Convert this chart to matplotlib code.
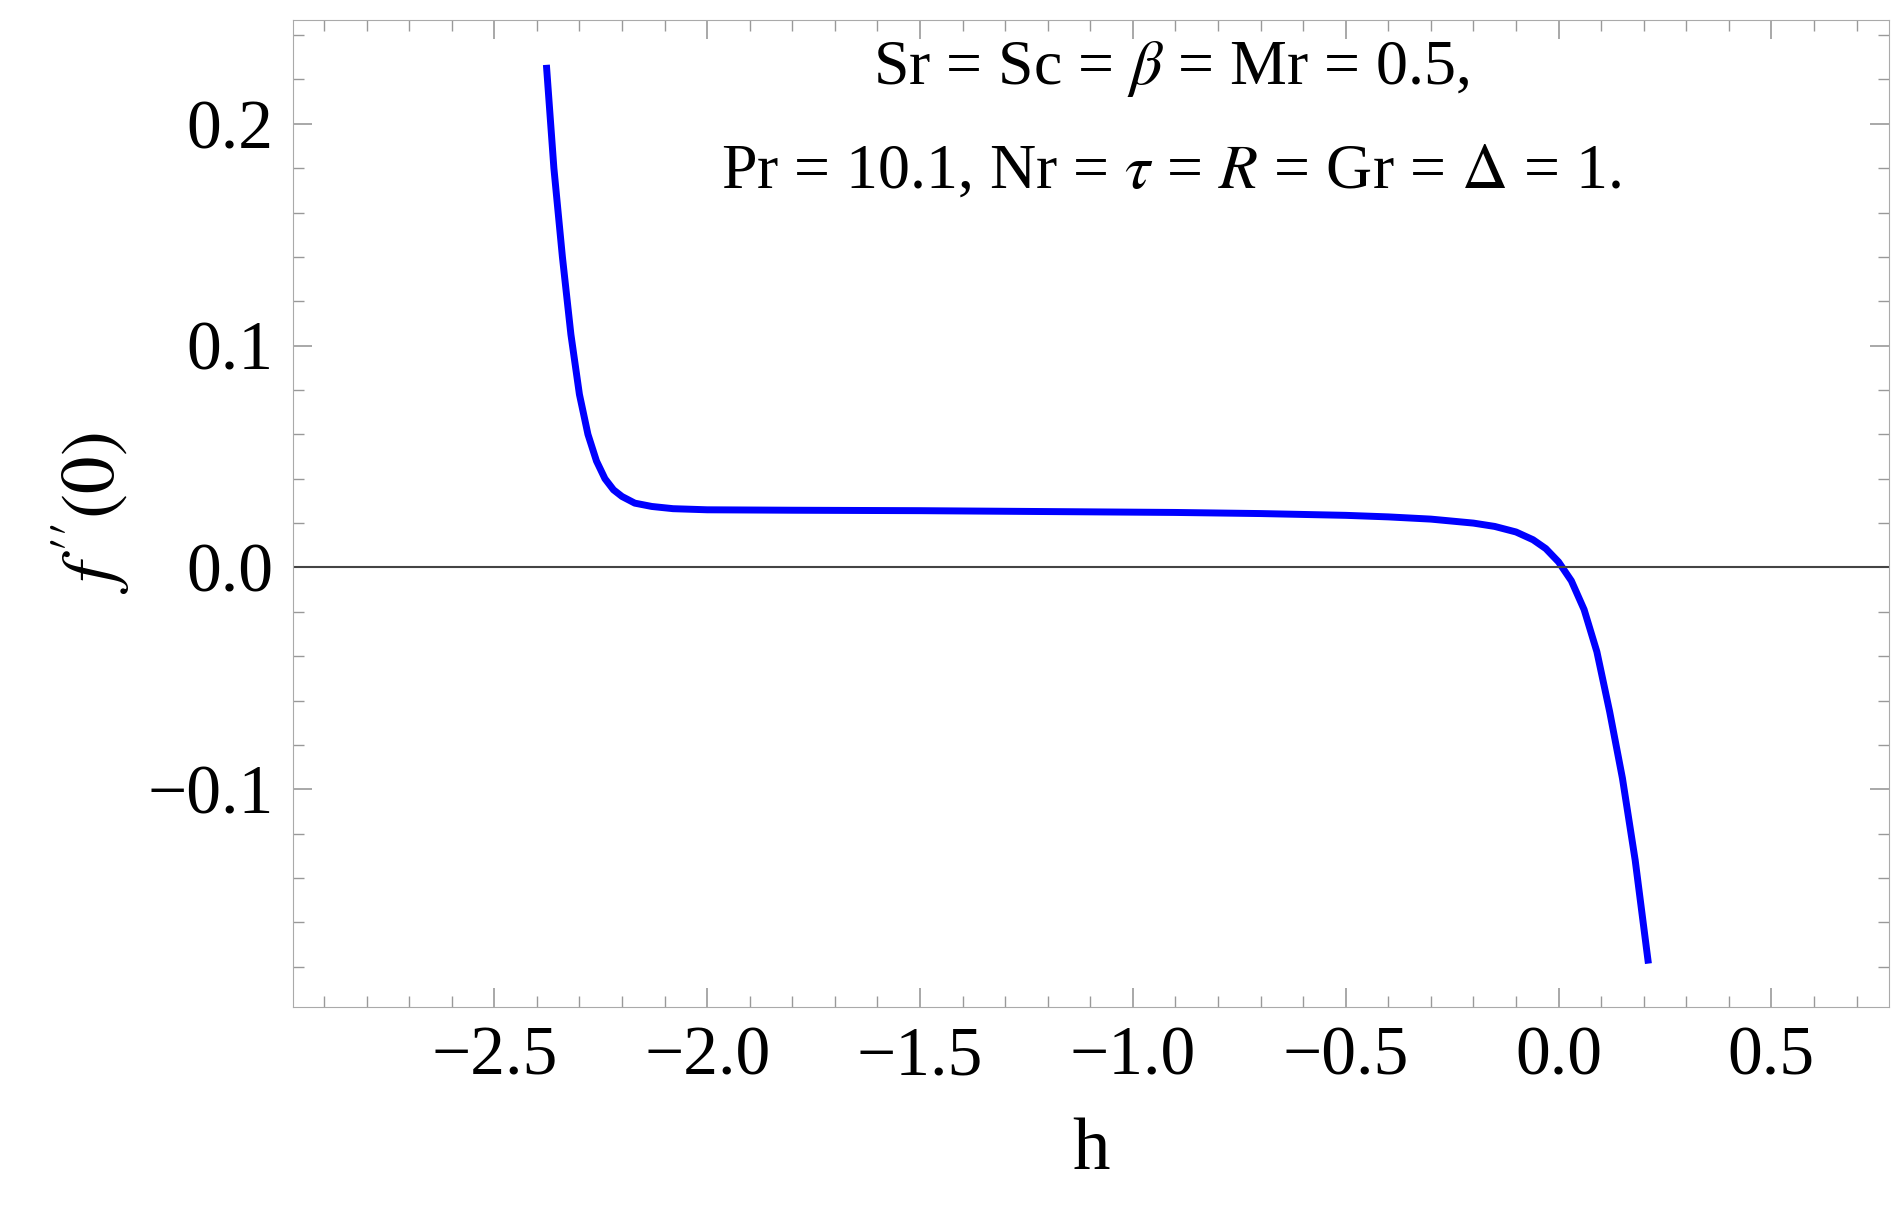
import matplotlib.pyplot as plt
import numpy as np
from matplotlib.ticker import MultipleLocator

plt.rcParams['font.family'] = ['Liberation Serif', 'DejaVu Serif']
plt.rcParams['mathtext.fontset'] = 'stix'

# values
h = [-2.377, -2.36, -2.34, -2.32, -2.30, -2.28, -2.26, -2.24, -2.22, -2.20, -2.17, -2.13,
     -2.08, -2.0, -1.8, -1.5, -1.2, -0.9, -0.7, -0.5, -0.4, -0.3, -0.2, -0.15, -0.1,
     -0.06, -0.03, 0.0, 0.03, 0.06, 0.09, 0.12, 0.15, 0.18, 0.21]
fpp = [0.225, 0.180, 0.140, 0.105, 0.078, 0.060, 0.048, 0.040, 0.035, 0.032, 0.029, 0.0275,
       0.0265, 0.026, 0.0258, 0.0256, 0.0252, 0.0248, 0.0243, 0.0235, 0.0228, 0.0218, 0.0200, 0.0185, 0.0160,
       0.0125, 0.0085, 0.0025, -0.0060, -0.0190, -0.0380, -0.0650, -0.0950, -0.1320, -0.1770]

fig = plt.figure(figsize=(19.04, 12.31), dpi=100)
ax = fig.add_axes([0.154, 0.329, 0.687, 0.658])
ax.set_position([240/1560, 1 - 826/1010, 1308/1560, 810/1010])
ax.plot(h, fpp, color='#0000ff', lw=5)
ax.axhline(0, color='#444444', lw=1.5)
ax.set_xlim(-2.973, 0.777)
ax.set_ylim(-0.198, 0.247)
ax.xaxis.set_major_locator(MultipleLocator(0.5))
ax.xaxis.set_minor_locator(MultipleLocator(0.1))
ax.yaxis.set_major_locator(MultipleLocator(0.1))
ax.yaxis.set_minor_locator(MultipleLocator(0.02))
ax.tick_params(which='both', direction='in', top=True, right=True, color='#999999',
               labelsize=50, pad=14)
ax.tick_params(which='major', length=14, width=1.2)
ax.tick_params(which='minor', length=8, width=1)
ax.xaxis.set_major_formatter(plt.FuncFormatter(lambda v, p: f'{v:.1f}'.replace('-', '\u2212')))
ax.yaxis.set_major_formatter(plt.FuncFormatter(lambda v, p: f'{v:.1f}'.replace('-', '\u2212')))
for s in ax.spines.values():
    s.set_color('#aaaaaa')
ax.set_xlabel('h', fontsize=54, labelpad=20)
ax.set_ylabel(r"$f\,''(0)$", fontsize=54, labelpad=10)
ax.text(0.55, 0.95, r'Sr = Sc = $\beta$ = Mr = 0.5,', transform=ax.transAxes,
        ha='center', va='center', fontsize=46)
ax.text(0.55, 0.845, r'Pr = 10.1, Nr = $\tau$ = $R$ = Gr = $\Delta$ = 1.', transform=ax.transAxes,
        ha='center', va='center', fontsize=46)
fig.savefig('out.png', dpi=100)
